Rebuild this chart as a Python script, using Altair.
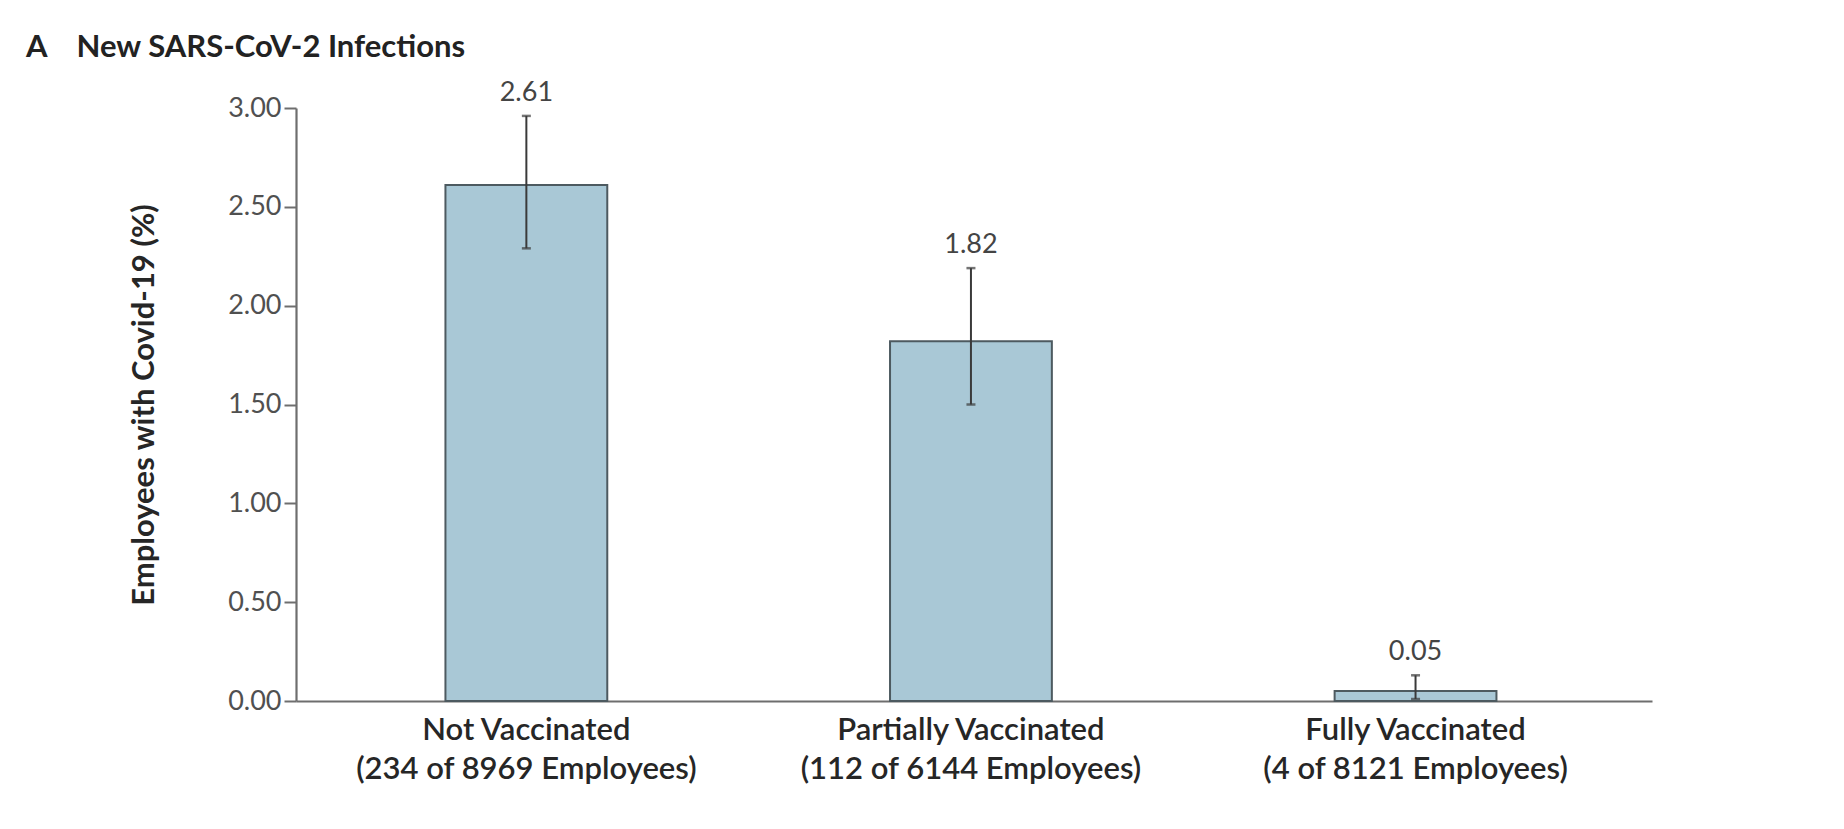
import altair as alt
import pandas as pd

groups = ["Not Vaccinated", "Partially Vaccinated", "Fully Vaccinated"]
counts = ["(234 of 8969 Employees)", "(112 of 6144 Employees)", "(4 of 8121 Employees)"]
rates = [2.61, 1.82, 0.05]
ci_low = [2.29, 1.50, 0.01]
ci_high = [2.96, 2.19, 0.13]
y_ticks = [0, 0.5, 1.0, 1.5, 2.0, 2.5, 3.0]

df = pd.DataFrame({
    "group": groups,
    "count": counts,
    "rate": rates,
    "lo": ci_low,
    "hi": ci_high,
})

label_map = "{" + ", ".join(f"'{g}': '{c}'" for g, c in zip(groups, counts)) + "}"
label_expr = f"[datum.label, {label_map}[datum.label]]"

FONT = "Lato"

x_enc = alt.X(
    "group:N",
    sort=groups,
    scale=alt.Scale(paddingInner=0.636, paddingOuter=0.343, align=0.49),
    axis=alt.Axis(
        title=None,
        labelAngle=0,
        ticks=False,
        labelExpr=label_expr,
        labelLimit=0,
        labelFont=FONT,
        labelFontSize=31,
        labelFontWeight=600,
        labelColor="#262626",
        labelLineHeight=39,
        labelPadding=14,
        labelBaseline="top",
        domainColor="#6e6e6e",
        domainWidth=2.2,
    ),
)

y_scale = alt.Scale(domain=[0, 3], nice=False)

bars = alt.Chart(df).mark_bar(
    fill="#a9c8d6", stroke="#4d5a60", strokeWidth=2
).encode(
    x=x_enc,
    y=alt.Y(
        "rate:Q",
        scale=y_scale,
        axis=alt.Axis(
            values=y_ticks,
            format=".2f",
            grid=False,
            title="Employees with Covid-19 (%)",
            titleFont=FONT,
            titleFontSize=31,
            titleFontWeight="bold",
            titleColor="#262626",
            titleX=-152,
            titleBaseline="middle",
            labelFont=FONT,
            labelFontSize=27,
            labelColor="#505050",
            labelPadding=3,
            tickSize=12,
            tickWidth=2,
            tickColor="#6e6e6e",
            domainColor="#6e6e6e",
            domainWidth=2.2,
        ),
    ),
)

rules = alt.Chart(df).mark_rule(color="#3a3a3a", strokeWidth=2).encode(
    x=alt.X("group:N", sort=groups),
    y="lo:Q",
    y2="hi:Q",
)

caps_hi = alt.Chart(df).mark_tick(color="#3a3a3a", size=9, thickness=2.5).encode(
    x=alt.X("group:N", sort=groups),
    y="hi:Q",
)
caps_lo = alt.Chart(df).mark_tick(color="#3a3a3a", size=9, thickness=2.5).encode(
    x=alt.X("group:N", sort=groups),
    y="lo:Q",
)

labels = alt.Chart(df).mark_text(
    font=FONT, fontSize=27, color="#444444", baseline="bottom", dy=-9
).encode(
    x=alt.X("group:N", sort=groups),
    y="hi:Q",
    text=alt.Text("rate:Q", format=".2f"),
)

chart = alt.layer(bars, rules, caps_hi, caps_lo, labels).properties(
    width=1356,
    height=593,
    autosize=alt.AutoSizeParams(type="none"),
    padding={"left": 288, "top": 100, "right": 176, "bottom": 120},
    background="white",
    title=alt.TitleParams(
        "A\u00a0\u00a0\u00a0\u00a0New SARS-CoV-2 Infections",
        anchor="start",
        frame="group",
        dx=-270,
        dy=-5,
        font=FONT,
        fontSize=31,
        fontWeight="bold",
        color="#222222",
        offset=10,
    ),
).configure_view(stroke=None)

chart.save("out.html", embed_options={"renderer": "svg", "actions": False})
